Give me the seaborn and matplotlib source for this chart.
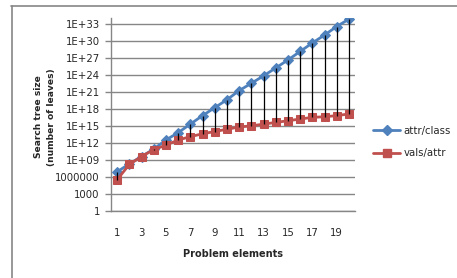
import math
import matplotlib
matplotlib.use('Agg')
import matplotlib.pyplot as plt
import seaborn as sns
import pandas as pd
from matplotlib.ticker import FuncFormatter, NullLocator
from matplotlib.lines import Line2D

# problem elements 1..20, search tree sizes (log10 of leaves)
elements = list(range(1, 21))
attr_class_log = [6.9, 8.3, 9.6, 10.9, 12.5, 13.8, 15.3, 16.8, 18.2, 19.6,
                  21.2, 22.5, 23.8, 25.2, 26.6, 28.1, 29.6, 31.0, 32.5, 33.8]
vals_attr_log = [5.5, 8.2, 9.6, 10.8, 11.6, 12.5, 13.1, 13.6, 14.0, 14.4,
                 14.8, 15.0, 15.3, 15.6, 15.9, 16.2, 16.5, 16.6, 16.8, 17.1]
series_names = ['attr/class', 'vals/attr']
y_tick_exps = list(range(0, 34, 3))
x_tick_labels = list(range(1, 20, 2))

BLUE = '#4F81BD'
RED = '#C0504D'
GRID = '#868686'

df = pd.DataFrame({
    'element': elements,
    'attr/class': [10.0 ** v for v in attr_class_log],
    'vals/attr': [10.0 ** v for v in vals_attr_log],
})

sns.set_style('white')
plt.rcParams['font.family'] = ['DejaVu Sans']

fig = plt.figure(figsize=(4.57, 2.78), dpi=100)
ax = fig.add_axes([111 / 457, 1 - 211 / 278, 244 / 457, 193 / 278])

# high-low lines between the two series
ax.vlines(df['element'], df['vals/attr'], df['attr/class'],
          color='black', lw=0.9, zorder=5)

sns.lineplot(data=df, x='element', y='attr/class', ax=ax, color=BLUE,
             lw=2, marker='D', markersize=4.8, mec=BLUE, zorder=3)
sns.lineplot(data=df, x='element', y='vals/attr', ax=ax, color=RED,
             lw=2, marker='s', markersize=6.3, mec=RED, zorder=4)

ax.set_yscale('log')
ax.set_ylim(1, 1e34)
ax.set_yticks([10.0 ** e for e in y_tick_exps])
ax.yaxis.set_minor_locator(NullLocator())


def fmt(v, pos):
    e = int(round(math.log10(v)))
    if e <= 6:
        return str(10 ** e)
    return '1E+%02d' % e


ax.yaxis.set_major_formatter(FuncFormatter(fmt))
ax.set_xlim(0.5, 20.5)
ax.set_xticks(x_tick_labels)
ax.set_xticklabels([str(t) for t in x_tick_labels])

ax.grid(axis='y', color=GRID, lw=1)
ax.grid(axis='x', visible=False)
for s in ['top', 'right']:
    ax.spines[s].set_visible(False)
for s in ['left', 'bottom']:
    ax.spines[s].set_color(GRID)
    ax.spines[s].set_linewidth(1)
ax.tick_params(axis='y', length=4, width=1, color=GRID, labelsize=7.3, pad=4,
               left=True)
ax.tick_params(axis='x', length=0, labelsize=7.3, pad=12)

ax.set_xlabel('Problem elements', fontsize=7, fontweight='bold', labelpad=8)
ax.set_ylabel('')
fig.text(45 / 457, 1 - 117 / 278, 'Search tree size\n(number of leaves)',
         rotation=90, ha='center', va='center', fontsize=6.6,
         fontweight='bold', linespacing=1.5)

handles = [
    Line2D([], [], color=BLUE, lw=2, marker='D', markersize=4.8, mec=BLUE),
    Line2D([], [], color=RED, lw=2, marker='s', markersize=6.3, mec=RED),
]
fig.legend(handles, series_names, loc='center left',
           bbox_to_anchor=(373 / 457, 1 - 142 / 278), frameon=False,
           fontsize=7.3, handlelength=2.7, handletextpad=0.3, labelspacing=1.2,
           borderpad=0, borderaxespad=0)

# partial chart-area border (top and left edges)
fig.add_artist(Line2D([11 / 457, 1], [1 - 5.5 / 278] * 2, color=GRID,
                      lw=1.2, transform=fig.transFigure))
fig.add_artist(Line2D([11.5 / 457] * 2, [0, 1 - 5.5 / 278], color=GRID,
                      lw=1.2, transform=fig.transFigure))

fig.savefig('out.png', dpi=100)
